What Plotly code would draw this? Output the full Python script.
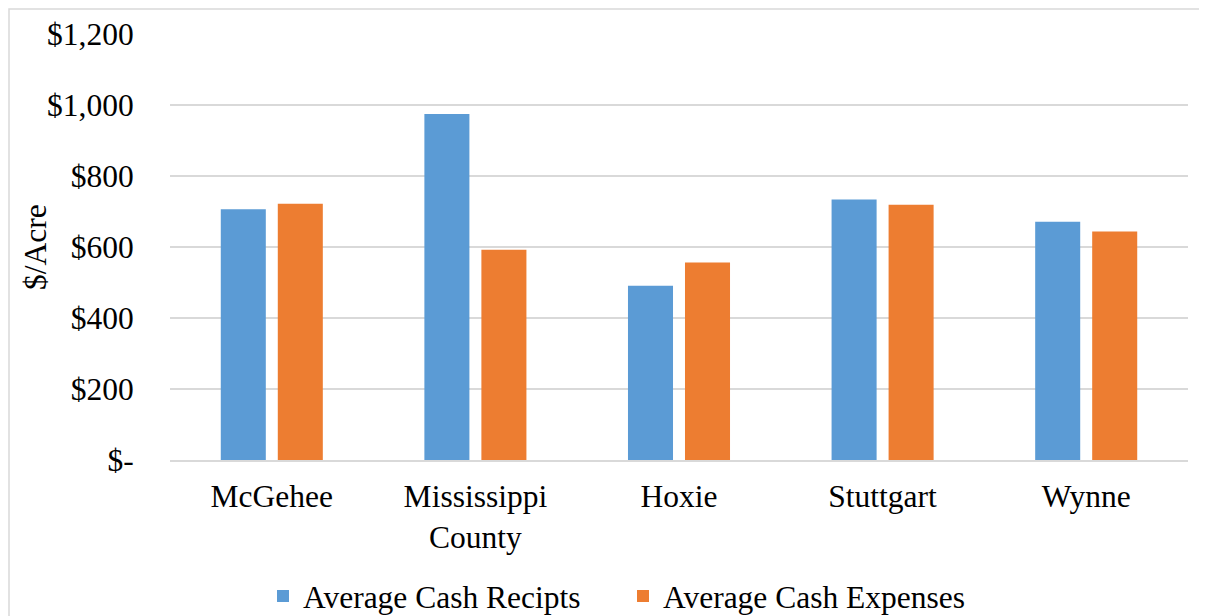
import plotly.graph_objects as go

locations = ["McGehee", "Mississippi<br>County", "Hoxie", "Stuttgart", "Wynne"]
cash_receipts = [706, 975, 491, 734, 671]
cash_expenses = [722, 592, 556, 719, 644]

y_ticks = [0, 200, 400, 600, 800, 1000, 1200]
y_labels = ["$-", "$200", "$400", "$600", "$800", "$1,000", "$1,200"]

font_name = "Liberation Serif"
font_size = 31.5

# page body adds an 8px offset, margins are set to compensate
m_left, m_right, m_top, m_bottom = 162, 27, 26, 164
plot_w = 1207 - m_left - m_right
plot_h = 616 - m_top - m_bottom

fig = go.Figure()
fig.add_trace(go.Bar(x=locations, y=cash_receipts, name="Average Cash Recipts",
                     marker=dict(color="#5B9BD5", line=dict(width=0))))
fig.add_trace(go.Bar(x=locations, y=cash_expenses, name="Average Cash Expenses",
                     marker=dict(color="#ED7D31", line=dict(width=0))))

fig.update_layout(
    width=1207, height=616,
    margin=dict(l=m_left, r=m_right, t=m_top, b=m_bottom),
    paper_bgcolor="white", plot_bgcolor="white",
    font=dict(family=font_name, size=font_size, color="black"),
    barmode="group", bargap=0.44, bargroupgap=0.21,
    legend=dict(orientation="h", x=0.445, xanchor="center",
                y=28 / 616, yref="container", yanchor="middle",
                font=dict(size=font_size), bgcolor="rgba(0,0,0,0)",
                entrywidth=315, entrywidthmode="pixels"),
    showlegend=True,
)

fig.update_yaxes(
    range=[0, 1200], tickvals=y_ticks, ticktext=y_labels,
    showgrid=True, gridcolor="#d9d9d9", gridwidth=2,
    zeroline=False, showline=False, automargin=False,
    ticks="outside", ticklen=0, ticklabelstandoff=29,
)
fig.update_xaxes(
    showline=True, linecolor="#d9d9d9", linewidth=2, automargin=False,
    ticks="outside", ticklen=0, ticklabelstandoff=7,
)

fig.add_annotation(text="$/Acre", xref="paper", yref="paper",
                   x=(27 - m_left) / plot_w, y=0.5, textangle=-90,
                   xanchor="center", yanchor="middle", showarrow=False,
                   font=dict(size=font_size))

# outer chart border
fig.add_shape(type="rect", xref="paper", yref="paper",
              x0=(1 - m_left) / plot_w, x1=(1192 - m_left) / plot_w,
              y0=-(640 - 616 + m_bottom) / plot_h, y1=(plot_h + m_top - 1) / plot_h,
              line=dict(color="#d9d9d9", width=1.5), layer="below")

fig.write_html("out.html")
